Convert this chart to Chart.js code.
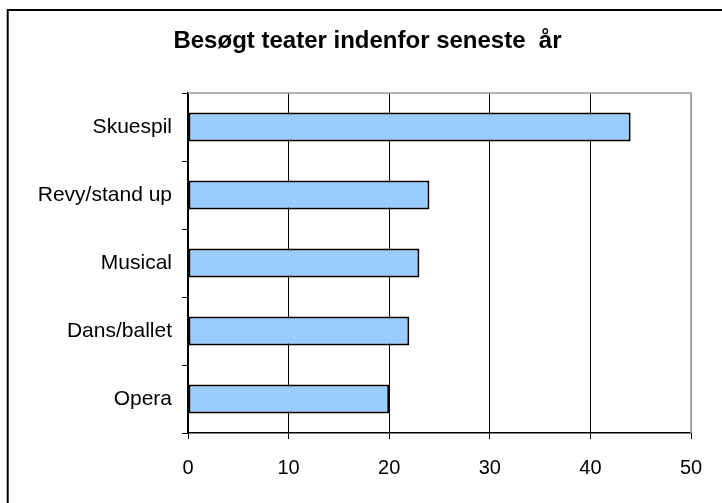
<!DOCTYPE html>
<html>
<head>
<meta charset="utf-8">
<script src="https://cdn.jsdelivr.net/npm/chart.js"></script>
<style>
  html, body { margin: 0; padding: 0; background: #fff; }
  canvas { display: block; }
</style>
</head>
<body>
<canvas id="chart" width="722" height="503"></canvas>
<script>
// data
const title = 'Besøgt teater indenfor seneste  år';
const categories = ['Skuespil', 'Revy/stand up', 'Musical', 'Dans/ballet', 'Opera'];
const values = [44, 24, 23, 22, 20];
const xTicks = [0, 10, 20, 30, 40, 50];

// outer frame, title and grey plot border
const framePlugin = {
    id: 'frame',
    beforeDraw(chart) {
        const ctx = chart.ctx;
        ctx.save();
        ctx.fillStyle = '#fff';
        ctx.fillRect(0, 0, chart.width, chart.height);
        ctx.strokeStyle = '#000';
        ctx.lineWidth = 2;
        ctx.beginPath();
        ctx.moveTo(7.7, chart.height + 5);
        ctx.lineTo(7.7, 10);
        ctx.lineTo(chart.width + 5, 10);
        ctx.stroke();
        // title (Excel centres it over the chart object, not the plot)
        ctx.fillStyle = '#000';
        ctx.font = 'bold 24px Arial, "Liberation Sans"';
        ctx.textAlign = 'center';
        ctx.textBaseline = 'alphabetic';
        ctx.fillText(title, 367.5, 48);
        ctx.restore();
    },
    beforeDatasetsDraw(chart) {
        const a = chart.chartArea;
        const ctx = chart.ctx;
        ctx.save();
        ctx.strokeStyle = '#999';
        ctx.lineWidth = 1.5;
        ctx.beginPath();
        ctx.moveTo(a.left, a.top);
        ctx.lineTo(a.right, a.top);
        ctx.lineTo(a.right, a.bottom);
        ctx.stroke();
        ctx.restore();
    }
};

const ctx = document.getElementById('chart').getContext('2d');
new Chart(ctx, {
    type: 'bar',
    data: {
        labels: categories,
        datasets: [{
            data: values,
            backgroundColor: '#99ccff',
            borderColor: '#000',
            borderWidth: 2,
            borderSkipped: false,
            categoryPercentage: 1,
            barPercentage: 0.43
        }]
    },
    options: {
        indexAxis: 'y',
        responsive: false,
        animation: false,
        devicePixelRatio: 1,
        layout: { padding: { left: 0, right: 31, top: 93, bottom: 0 } },
        plugins: {
            legend: { display: false },
            tooltip: { enabled: false },
            title: { display: false }
        },
        scales: {
            x: {
                min: 0,
                max: 50,
                afterBuildTicks(scale) {
                    scale.ticks = xTicks.map(v => ({ value: v }));
                },
                afterFit(scale) { scale.height = 70; },
                border: { display: true, color: '#000', width: 1.5 },
                grid: {
                    color: c => (c.tick && c.tick.value === 50 ? '#999' : '#000'),
                    lineWidth: 1,
                    tickLength: 6,
                    tickColor: '#000'
                },
                ticks: {
                    color: '#000',
                    padding: 17,
                    font: { family: 'Arial, "Liberation Sans"', size: 20 }
                }
            },
            y: {
                afterFit(scale) { scale.width = 188; },
                border: { display: true, color: '#000', width: 1.5 },
                grid: {
                    offset: true,
                    drawOnChartArea: false,
                    tickLength: 6,
                    tickColor: '#000'
                },
                ticks: {
                    color: '#000',
                    padding: 10,
                    font: { family: 'Arial, "Liberation Sans"', size: 21 }
                }
            }
        }
    },
    plugins: [framePlugin]
});
</script>
</body>
</html>
